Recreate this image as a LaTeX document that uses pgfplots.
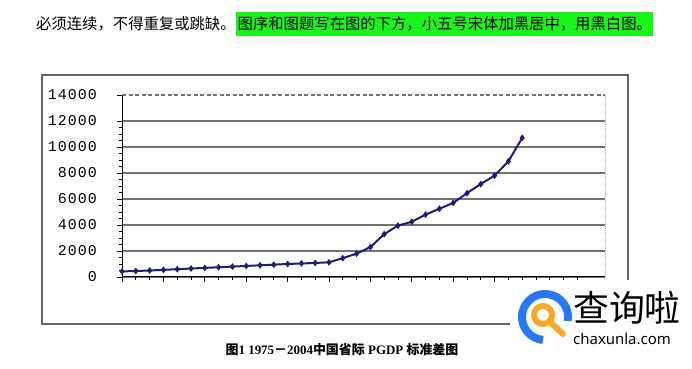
\documentclass[border=0pt]{standalone}
\usepackage{pgfplots}
\pgfplotsset{compat=1.18}
\usepackage{fontspec}
\setmainfont{Liberation Serif}
\newfontfamily\cjk{Noto Sans CJK SC}
\newfontfamily\tickfont[LetterSpace=7]{Liberation Mono}
\newfontfamily\logosans{Noto Sans}
\definecolor{curve}{RGB}{30,30,120}
\definecolor{gridc}{RGB}{115,115,115}
\definecolor{framec}{RGB}{100,100,100}
\definecolor{hl}{RGB}{25,245,25}
\definecolor{logoblue}{RGB}{40,120,240}
\definecolor{logoorange}{RGB}{245,170,40}
\pgfplotstableread{
x y
0 430
1 460
2 500
3 550
4 600
5 650
6 700
7 750
8 800
9 850
10 900
11 950
12 1000
13 1040
14 1080
15 1130
16 1450
17 1800
18 2300
19 3300
20 3950
21 4250
22 4800
23 5250
24 5700
25 6450
26 7150
27 7800
28 8900
29 10700
}\sdtable
\begin{document}
\begin{tikzpicture}
\useasboundingbox (0bp,0bp) rectangle (692bp,369bp);
\fill[white] (0bp,0bp) rectangle (692bp,369bp);
\node[anchor=west, inner sep=0pt, font=\cjk\fontsize{15.4}{15.4}\selectfont] at (36bp,345bp) {必须连续，不得重复或跳缺。};
\node[anchor=west, inner xsep=1.5bp, inner ysep=4.5bp, fill=hl, font=\cjk\fontsize{15.4}{15.4}\selectfont] at (236bp,345bp) {图序和图题写在图的下方，小五号宋体加黑居中，用黑白图。};
\draw[framec, line width=1.2bp] (42bp,45bp) rectangle (628bp,294bp);
\begin{axis}[
  at={(122bp,92bp)}, anchor=south west,
  scale only axis, width=483bp, height=182bp,
  xmin=0, xmax=35, ymin=0, ymax=14000,
  axis x line*=bottom, axis y line*=left,
  axis line style={black, line width=1bp},
  xtick={0,3,...,33}, minor x tick num=2, xticklabels={},
  ytick={0,2000,4000,6000,8000,10000,12000},
  yticklabels={0,2000,4000,6000,8000,10000,12000},
  extra y ticks={14000}, extra y tick labels={14000},
  extra y tick style={major grid style={draw=none}},
  scaled y ticks=false, scaled x ticks=false,
  minor y tick num=3,
  tick align=outside, major tick length=5bp, minor tick length=3.5bp,
  tick style={black, line width=0.8bp},
  ymajorgrids, major grid style={gridc, line width=1.3bp},
  /pgf/number format/assume math mode=true,
  yticklabel style={font=\tickfont\fontsize{15}{15}\selectfont, anchor=east, inner sep=0pt, xshift=-20bp},
  clip=false,
]
\draw[gridc, dash pattern=on 4bp off 2.5bp, line width=1.2bp] (rel axis cs:0,1) -- (rel axis cs:1,1);
\draw[gridc!60, densely dotted, line width=1bp] (rel axis cs:1,0) -- (rel axis cs:1,1);
\addplot[curve, line width=2bp, mark=diamond*, mark size=1.8bp, mark options={solid}] table[x=x,y=y] {\sdtable};
\end{axis}
% watermark logo
\fill[white] (510bp,0bp) rectangle (692bp,89bp);
\draw[logoblue, line width=8bp] (545bp,52bp) ++(-10:23bp) arc[start angle=-10, end angle=265, radius=23bp];
\draw[logoorange, line width=6bp] (543bp,54bp) circle[radius=9bp];
\draw[logoorange, line width=6bp, line cap=round] (550bp,47bp) -- (563bp,35bp);
\node[font=\cjk\fontsize{36}{36}\selectfont, inner sep=0pt] at (627bp,61bp) {查询啦};
\node[font=\logosans\fontsize{15}{15}\selectfont, inner sep=0pt] at (622bp,30bp) {chaxunla.com};
% caption
\node[font=\fontsize{13}{13}\selectfont\bfseries, inner sep=0pt] at (342bp,19bp) {{\cjk\bfseries 图}1 1975{\cjk\bfseries －}2004{\cjk\bfseries 中国省际} PGDP {\cjk\bfseries 标准差图}};
\end{tikzpicture}
\end{document}
